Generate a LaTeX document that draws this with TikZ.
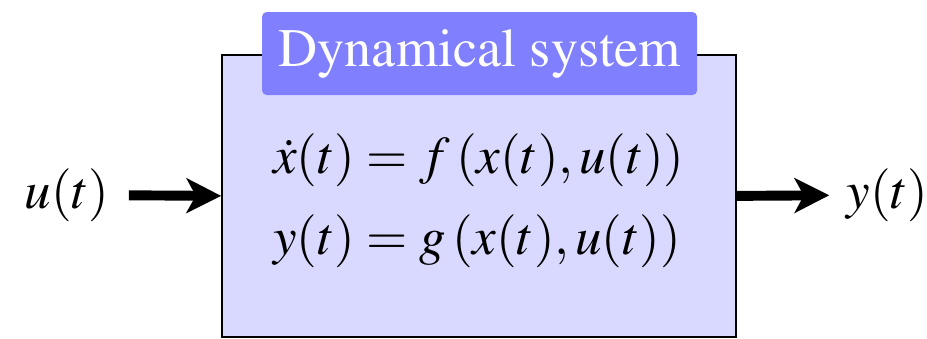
\documentclass[tikz,border=0pt]{standalone}
\usepackage{amsmath}
\usepackage{mathptmx}
\usepackage{xcolor}
\usetikzlibrary{arrows.meta,positioning}
\newcommand{\titlefont}{\fontencoding{T1}\fontfamily{ptm}\fontsize{23.5}{27}\selectfont}

\begin{document}
\begin{tikzpicture}[>={Stealth[length=15pt,width=15pt,inset=4pt]},
  sysbox/.style={draw=black,line width=.8pt,fill=blue!15,minimum width=7.83cm,minimum height=4.30cm},
  titlebox/.style={fill=blue!50,rounded corners=2pt,minimum width=6.63cm,minimum height=1.265cm,text=white,font=\titlefont},
  eqfont/.style={font=\fontsize{23}{28}\selectfont},
  sig/.style={->,line width=4.3pt}]
\useasboundingbox (0,0) rectangle (14.13,5.166);
\node[sysbox] (sys) at (7.30,2.18) {};
\node[titlebox] (title) at (7.31,4.35) {Dynamical system};
\node[eqfont] (eqs) at (7.30,2.10) {$\begin{aligned}
  \dot{x}(t) &= f\left(x(t),u(t)\right)\\[4pt]
  y(t) &= g\left(x(t),u(t)\right)
\end{aligned}$};
\node[eqfont] (u) at (1.02,2.19) {$u(t)$};
\node[eqfont,anchor=west] (y) at (12.78,2.19) {$y(t)$};
\draw[sig,shorten <=5pt] (u.east) -- (sys.west);
\draw[sig,shorten >=4pt] (sys.east) -- (y.west);
\end{tikzpicture}
\end{document}
